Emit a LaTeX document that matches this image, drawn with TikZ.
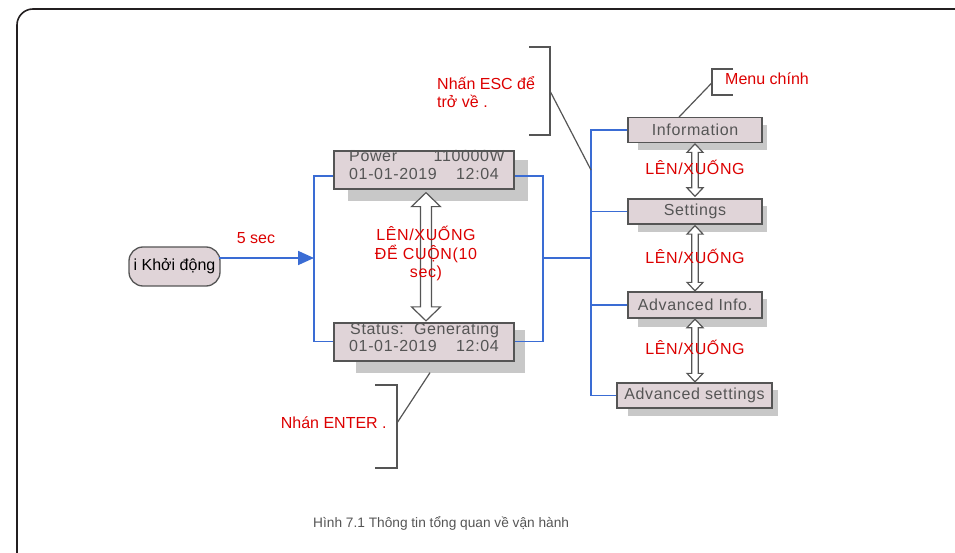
\documentclass[tikz,border=0pt]{standalone}
\usepackage{fontspec}
\setmainfont{Liberation Sans}
\newfontfamily\spfont[LetterSpace=4]{Liberation Sans}
\usetikzlibrary{calc,arrows.meta}
\definecolor{framec}{RGB}{35,31,32}
\definecolor{boxline}{RGB}{85,85,85}
\definecolor{boxfill}{RGB}{224,212,216}
\definecolor{shadc}{RGB}{200,200,200}
\definecolor{graytxt}{RGB}{85,85,85}
\definecolor{redc}{RGB}{220,0,0}
\definecolor{bluec}{RGB}{58,108,212}
\newcommand\udarr[5]{\draw[dblarr] (#1) -- ++(#4,#5) -- ++({#3-#4},0) -- ($(#2)+(#3,-#5)$) -- ++({#4-#3},0) -- (#2) -- ++(-#4,-#5) -- ++({#4-#3},0) -- ($(#1)+(-#3,#5)$) -- ++({#3-#4},0) -- cycle;}
\begin{document}
\begin{tikzpicture}[x=1pt,y=-1pt,
  box/.style={draw=boxline, fill=boxfill, line width=1.3pt, rectangle, inner sep=0pt, text=graytxt, font=\spfont\fontsize{16}{18}\selectfont},
  blueline/.style={draw=bluec, line width=1.8pt},
  gline/.style={draw=boxline, line width=1.2pt},
  dblarr/.style={draw=boxline, fill=white, line width=1.2pt, line join=miter},
  btxt/.style={inner sep=0pt, text=graytxt, font=\spfont\fontsize{16}{18}\selectfont},
  redtxt/.style={inner sep=0pt, text=redc, font=\fontsize{16}{18}\selectfont},
  redsp/.style={inner sep=0pt, text=redc, font=\spfont\fontsize{16}{18.3}\selectfont}
]
\useasboundingbox (0,0) rectangle (955,553);
\begin{scope}
\clip (0,0) rectangle (955,553);
\draw[framec, line width=1.6pt, rounded corners=16pt] (17,9) rectangle (985,585);
\end{scope}

% shadows
\fill[shadc] (348,160) rectangle (528,200.7);
\fill[shadc] (356,330) rectangle (525,372.7);
\fill[shadc] (638,125) rectangle (767,150);
\fill[shadc] (638,206) rectangle (767,232);
\fill[shadc] (638,299) rectangle (767,327);
\fill[shadc] (628,390) rectangle (778,416);

% junction coordinates
\coordinate (jl) at (314,258);
\coordinate (jr) at (543,258);
\coordinate (tr) at (591,258);

% start node
\node[draw=boxline, fill=boxfill, line width=1.3pt, rounded corners=14pt, minimum width=91pt, minimum height=39pt, inner sep=0pt, font=\fontsize{16}{18}\selectfont] (start) at (174.5,266.5) {i Khởi động};

% boxes
\node[box, minimum width=180pt, minimum height=38pt] (pw) at (424,170) {};
\node[box, minimum width=180pt, minimum height=38pt] (st) at (424,342) {};
\node[box, minimum width=134pt, minimum height=24.5pt] (info) at (695,130) {Information};
\node[box, minimum width=134pt, minimum height=25pt] (set) at (695,211.5) {Settings};
\node[box, minimum width=134pt, minimum height=26pt] (ainfo) at (695,305) {Advanced Info.};
\node[box, minimum width=155pt, minimum height=25pt] (aset) at (694.5,395.5) {Advanced settings};

% blue connectors
\draw[blueline] ($(pw.south west)+(0,-13.5)$) -| (jl) |- ($(st.west)+(0,-0.5)$);
\draw[blueline] ($(pw.south east)+(0,-13.5)$) -| (jr) |- ($(st.east)+(0,-0.5)$);
\draw[blueline] (jr) -- (tr);
\draw[blueline] (info.west) -| (tr) |- (aset.west);
\draw[blueline] (set.west) -- (set.west -| tr);
\draw[blueline] (ainfo.west) -- (ainfo.west -| tr);
\draw[blueline, -{Triangle[length=16pt,width=14pt]}] ($(start.east)+(-2,-8.5)$) -- (jl);

% box texts
\node[btxt, anchor=base west] (pw1) at (349,161.5) {Power};
\node[btxt, anchor=base east] (pw2) at (505,161.5) {110000W};
\node[btxt, anchor=base west] (pw3) at (349,180) {01-01-2019};
\node[btxt, anchor=base east] (pw4) at (499,180) {12:04};
\node[btxt, anchor=base west] (st1) at (350,334) {Status:\ \ Generating};
\node[btxt, anchor=base west] (st2) at (349,351.7) {01-01-2019};
\node[btxt, anchor=base east] (st3) at (499,351.7) {12:04};

% double arrows
\coordinate (a1t) at ($(pw.south)+(2,3)$);
\coordinate (a1b) at ($(st.north)+(2,-1.5)$);
\coordinate (a2t) at ($(info.south)+(0,1)$);
\coordinate (a2b) at ($(set.north)+(0,-2)$);
\coordinate (a3t) at ($(set.south)+(0,1)$);
\coordinate (a3b) at ($(ainfo.north)+(0,-0.5)$);
\coordinate (a4t) at ($(ainfo.south)+(0,0.5)$);
\coordinate (a4b) at ($(aset.north)+(0.5,-0.5)$);
\udarr{a1t}{a1b}{5.5}{14.5}{14}
\udarr{a2t}{a2b}{3.3}{8}{8.5}
\udarr{a3t}{a3b}{3.3}{8}{8.5}
\udarr{a4t}{a4b}{3.3}{8}{8.5}

% red labels
\node[redsp, align=center, anchor=base] (scroll) at (426,277.3) {LÊN/XUỐNG\\ĐỂ CUỘN(10\\sec)};
\node[redsp, anchor=base] (ud1) at (695,174.3) {LÊN/XUỐNG};
\node[redsp, anchor=base] (ud2) at (695,263.3) {LÊN/XUỐNG};
\node[redsp, anchor=base] (ud3) at (695,354.3) {LÊN/XUỐNG};
\node[redtxt, anchor=base west] (fs) at (236.7,243.3) {5 sec};
\node[redtxt, anchor=base west] (menu) at (725,85) {Menu chính};
\node[redtxt, anchor=base west, align=left] (esc) at (437,108) {Nhấn ESC để\\trở về .};
\node[redtxt, anchor=base west] (ent) at (280.7,428.3) {Nhán ENTER .};

% annotation brackets
\coordinate (escb) at (550,91);
\draw[gline] (529,47) -- (550,47) -- (550,135) -- (529,135);
\draw[gline] (escb) -- ($(tr)+(0,-88)$);
\coordinate (menub) at (712,82.7);
\draw[gline] (733,69) -- (712,69) -- (712,95) -- (733,95);
\draw[gline] (menub) -- ($(info.north)+(-16,0)$);
\coordinate (entb) at (397,423);
\draw[gline] (375,385) -- (397,385) -- (397,468) -- (375,468);
\draw[gline] (entb) -- ($(st.south)+(6,11)$);

% caption
\node[anchor=base west, inner sep=0pt, text=graytxt, font=\fontsize{13.7}{16}\selectfont] (cap) at (313,527.7) {Hình 7.1 Thông tin tổng quan về vận hành};
\end{tikzpicture}
\end{document}
